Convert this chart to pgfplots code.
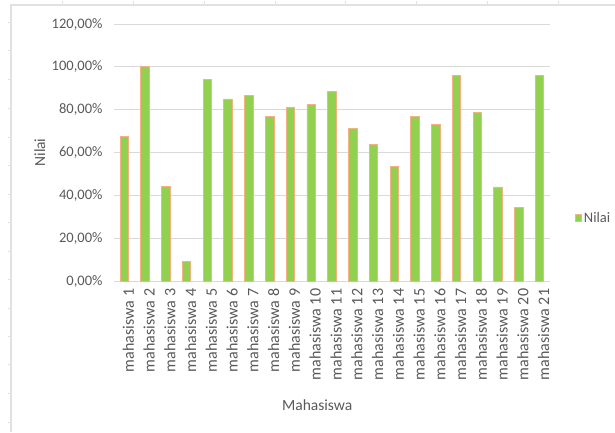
\documentclass[border=0pt]{standalone}
\usepackage{pgfplots}
\pgfplotsset{compat=1.18}
\usepackage{fontspec}
\setmainfont{Carlito}
\definecolor{barfill}{RGB}{146,208,80}
\definecolor{baredge}{RGB}{244,177,131}
\definecolor{txt}{RGB}{89,89,89}
\definecolor{grd}{RGB}{217,217,217}
\definecolor{frm}{RGB}{225,225,225}
\begin{document}
\begin{tikzpicture}
\path[use as bounding box] (0pt,0pt) rectangle (615pt,432pt);
% spreadsheet frame
\draw[frm, line width=1.2pt] (11pt,0pt) -- (11pt,427pt) -- (615pt,427pt);
\foreach \x in {62,133,204,275,345,416,487,558} {\draw[frm, line width=1pt] (\x pt,427pt) -- (\x pt,431pt);}
\foreach \y in {23,51,80,108,137,165,194,222,251,279,308,336,364,393,422} {\draw[frm, line width=1pt] (8pt,432pt-\y pt) -- (11pt,432pt-\y pt);}
\begin{axis}[
  at={(114pt,151pt)}, anchor=south west,
  scale only axis, width=436pt, height=257pt,
  xmin=-0.5, xmax=20.5, ymin=0, ymax=120,
  ybar, bar width=8.5pt,
  axis line style={draw=none},
  ymajorgrids, grid style={grd, line width=1pt},
  major tick style={draw=none},
  xtick={0,...,20},
  xticklabels={mahasiswa 1,mahasiswa 2,mahasiswa 3,mahasiswa 4,mahasiswa 5,mahasiswa 6,mahasiswa 7,mahasiswa 8,mahasiswa 9,mahasiswa 10,mahasiswa 11,mahasiswa 12,mahasiswa 13,mahasiswa 14,mahasiswa 15,mahasiswa 16,mahasiswa 17,mahasiswa 18,mahasiswa 19,mahasiswa 20,mahasiswa 21},
  ytick={0,20,40,60,80,100,120},
  yticklabels={{0,00\%},{20,00\%},{40,00\%},{60,00\%},{80,00\%},{100,00\%},{120,00\%}},
  /pgf/number format/assume math mode=true,
  ticklabel style={font=\fontsize{14.5}{17}\selectfont, text=txt},
  xticklabel style={rotate=90, anchor=east, yshift=-4pt, font=\fontsize{16}{18}\selectfont},
  yticklabel style={xshift=-8pt},
  label style={font=\fontsize{15.5}{18}\selectfont, text=txt},
  ylabel={Nilai},
  ylabel style={at={(axis description cs:-0.17,0.5)}, rotate=0, anchor=center},
  xlabel={Mahasiswa},
  xlabel style={at={(axis description cs:0.466,-0.482)}, anchor=center},
  legend style={at={(axis description cs:1.05,0.245)}, anchor=west, draw=none, fill=none,
    font=\fontsize{14.5}{17}\selectfont, text=txt},
  legend image code/.code={\draw[#1] (0pt,-3.5pt) rectangle (6pt,4pt);},
]
\addplot[fill=barfill, draw=baredge, line width=0.9pt] coordinates {
(0,67.5) (1,100) (2,44) (3,9) (4,94) (5,85) (6,86.5) (7,77) (8,81) (9,82.5)
(10,88.3) (11,71.2) (12,63.7) (13,53.6) (14,77) (15,73.2) (16,95.8) (17,78.8)
(18,43.9) (19,34.4) (20,95.8)
};
\addlegendentry{Nilai}
\end{axis}
\end{tikzpicture}
\end{document}
